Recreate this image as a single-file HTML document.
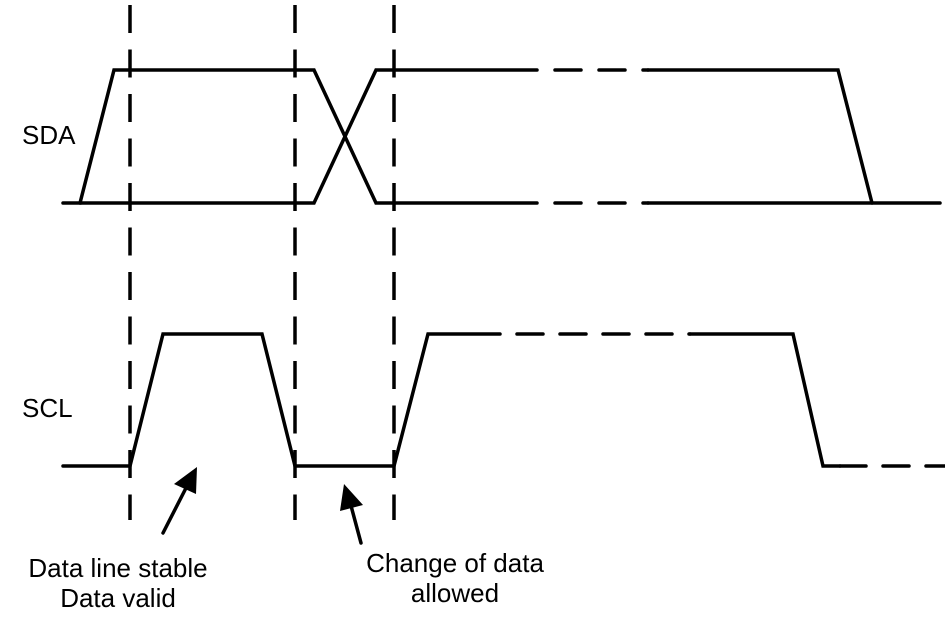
<!DOCTYPE html>
<html><head><meta charset="utf-8"><style>
html,body{margin:0;padding:0;background:#fff;}
svg{display:block}
text{font-family:"Liberation Sans",Arial,sans-serif;font-size:26px;fill:#000}
</style></head><body>
<svg width="945" height="626" viewBox="0 0 945 626" xmlns="http://www.w3.org/2000/svg">
<g stroke="#000" stroke-width="3.5" fill="none" stroke-linecap="round" stroke-linejoin="miter">
<g stroke-dasharray="28 16.5" stroke-linecap="butt">
<line x1="130" y1="5" x2="130" y2="520"/>
<line x1="295" y1="5" x2="295" y2="520"/>
<line x1="394" y1="5" x2="394" y2="520"/>
</g>
<polyline points="63,203 80,203 114,70 314,70 376,203 537,203"/>
<polyline points="80,203 314,203 376,70 537,70"/>
<g stroke-dasharray="26 18">
<line x1="555" y1="70" x2="648" y2="70"/>
<line x1="555" y1="203" x2="648" y2="203"/>
</g>
<polyline points="648,70 838,70 872,203"/>
<polyline points="648,203 940,203"/>
<polyline points="63,466 130,466 163,334 262,334 295,466 394,466 428,334 500,334"/>
<g stroke-dasharray="26 17">
<line x1="517" y1="334" x2="690" y2="334"/>
<line x1="840" y1="466" x2="945" y2="466"/>
</g>
<polyline points="690,334 793,334 823,466 840,466"/>
<line x1="163" y1="533" x2="186" y2="488"/>
<line x1="361" y1="543" x2="350" y2="502"/>
</g>
<polygon points="197,467 196,494 174,484" fill="#000"/>
<polygon points="344,484 363,505 340,511" fill="#000"/>
<text x="22" y="144">SDA</text>
<text x="22" y="417">SCL</text>
<text x="118" y="577" text-anchor="middle">Data line stable</text>
<text x="118" y="607" text-anchor="middle">Data valid</text>
<text x="455" y="572" text-anchor="middle">Change of data</text>
<text x="455" y="602" text-anchor="middle">allowed</text>
</svg>
</body></html>
